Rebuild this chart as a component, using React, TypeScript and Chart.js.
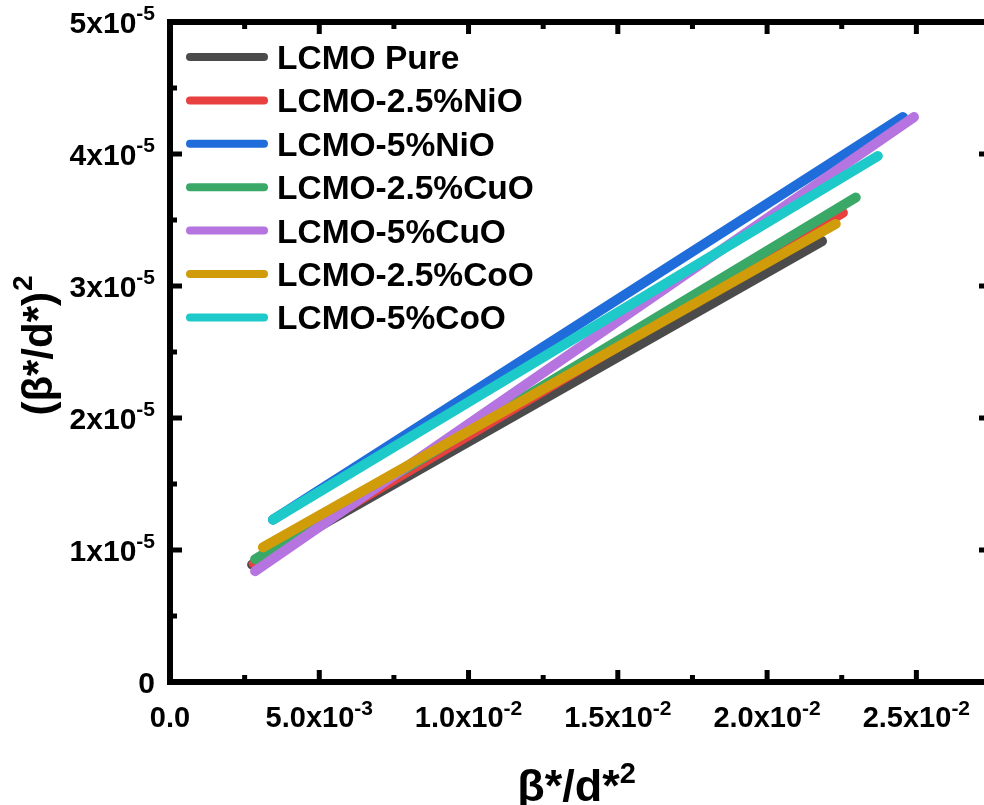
import { useEffect, useRef } from "react";
import { Chart, registerables } from "chart.js";

Chart.register(...registerables);

// Williamson–Hall style fit lines: (β*/d*)² against β*/d*², one straight fit per sample
const seriesNames = [
  "LCMO Pure",
  "LCMO-2.5%NiO",
  "LCMO-5%NiO",
  "LCMO-2.5%CuO",
  "LCMO-5%CuO",
  "LCMO-2.5%CoO",
  "LCMO-5%CoO",
];
const seriesColors = [
  "#4b4b4b",
  "#e8403f",
  "#1f6ddb",
  "#3aa867",
  "#b574e0",
  "#d19c0a",
  "#1ec9c9",
];

// fit end points (x = β*/d*², y = (β*/d*)²)
const pureX = [0.00275, 0.02184];
const pureY = [0.89e-5, 3.34e-5];
const nio25X = [0.0028, 0.02254];
const nio25Y = [0.9e-5, 3.555e-5];
const nio5X = [0.00345, 0.02455];
const nio5Y = [1.23e-5, 4.28e-5];
const cuo25X = [0.00285, 0.02297];
const cuo25Y = [0.93e-5, 3.67e-5];
const cuo5X = [0.00285, 0.02492];
const cuo5Y = [0.84e-5, 4.28e-5];
const coo25X = [0.00311, 0.0223];
const coo25Y = [1.02e-5, 3.47e-5];
const coo5X = [0.00345, 0.02371];
const coo5Y = [1.23e-5, 3.985e-5];

const seriesX = [pureX, nio25X, nio5X, cuo25X, cuo5X, coo25X, coo5X];
const seriesY = [pureY, nio25Y, nio5Y, cuo25Y, cuo5Y, coo25Y, coo5Y];

const xMin = 0;
const xMax = 0.0275;
const xStep = 0.0025;
const xMajor = 0.005;
const yMin = 0;
const yMax = 5e-5;
const yStep = 0.5e-5;
const yMajor = 1e-5;

const FONT = "'Liberation Sans', Arial, sans-serif";

const isMultiple = (v: number, m: number) =>
  Math.abs(v / m - Math.round(v / m)) < 1e-6;

// mantissa / exponent split for "Nx10^e" labels
const sciParts = (v: number, digits: number) => {
  const e = Math.floor(Math.log10(v) + 1e-9);
  const m = v / Math.pow(10, e);
  return { base: `${m.toFixed(digits)}x10`, exp: `${e}` };
};

const drawSci = (
  ctx: CanvasRenderingContext2D,
  base: string,
  exp: string,
  x: number,
  y: number,
  align: "right" | "center",
  size: number,
  supSize: number
) => {
  ctx.font = `bold ${size}px ${FONT}`;
  const wb = ctx.measureText(base).width;
  ctx.font = `bold ${supSize}px ${FONT}`;
  const we = exp ? ctx.measureText(exp).width : 0;
  const total = wb + we;
  const start = align === "right" ? x - total : x - total / 2;
  ctx.textAlign = "left";
  ctx.textBaseline = "alphabetic";
  ctx.font = `bold ${size}px ${FONT}`;
  ctx.fillText(base, start, y);
  if (exp) {
    ctx.font = `bold ${supSize}px ${FONT}`;
    ctx.fillText(exp, start + wb, y - size * 0.42);
  }
};

const framePlugin = {
  id: "frameAndLabels",
  afterDraw(chart: any) {
    const { ctx, chartArea: a, scales } = chart;
    const xs = scales.x;
    const ys = scales.y;
    ctx.save();
    ctx.strokeStyle = "#000";
    ctx.fillStyle = "#000";

    // tick marks on all four sides, pointing inward
    ctx.lineWidth = 5;
    ctx.lineCap = "butt";
    ctx.beginPath();
    for (const t of xs.ticks) {
      const px = xs.getPixelForValue(t.value);
      const len = isMultiple(t.value, xMajor) ? 12 : 7;
      ctx.moveTo(px, a.bottom);
      ctx.lineTo(px, a.bottom - len);
      ctx.moveTo(px, a.top);
      ctx.lineTo(px, a.top + len);
    }
    for (const t of ys.ticks) {
      const py = ys.getPixelForValue(t.value);
      const len = isMultiple(t.value, yMajor) ? 12 : 7;
      ctx.moveTo(a.left, py);
      ctx.lineTo(a.left + len, py);
      ctx.moveTo(a.right, py);
      ctx.lineTo(a.right - len, py);
    }
    ctx.stroke();

    // frame
    ctx.lineWidth = 6;
    ctx.strokeRect(a.left, a.top, a.right - a.left, a.bottom - a.top);

    // y tick labels
    for (const t of ys.ticks) {
      if (!isMultiple(t.value, yMajor)) continue;
      const py = ys.getPixelForValue(t.value);
      if (Math.abs(t.value) < 1e-12) {
        drawSci(ctx, "0", "", 155, py + 11, "right", 30, 21);
      } else {
        const p = sciParts(t.value, 0);
        drawSci(ctx, p.base, p.exp, 155, py + 11, "right", 30, 21);
      }
    }

    // x tick labels
    for (const t of xs.ticks) {
      if (!isMultiple(t.value, xMajor)) continue;
      const px = xs.getPixelForValue(t.value);
      if (Math.abs(t.value) < 1e-12) {
        drawSci(ctx, "0.0", "", px, a.bottom + 45, "center", 29, 21);
      } else {
        const p = sciParts(t.value, 1);
        drawSci(ctx, p.base, p.exp, px, a.bottom + 45, "center", 29, 21);
      }
    }

    // x title: β*/d*²
    {
      const cx = (a.left + a.right) / 2 - 4;
      ctx.font = `bold 45px ${FONT}`;
      const main = "β*/d*";
      const wm = ctx.measureText(main).width;
      ctx.font = `bold 29px ${FONT}`;
      const ws = ctx.measureText("2").width;
      const start = cx - (wm + ws) / 2;
      ctx.textAlign = "left";
      ctx.textBaseline = "alphabetic";
      ctx.font = `bold 45px ${FONT}`;
      ctx.fillText(main, start, 801);
      ctx.font = `bold 29px ${FONT}`;
      ctx.fillText("2", start + wm, 783);
    }

    // y title: (β*/d*)²
    {
      ctx.save();
      ctx.translate(52, 346);
      ctx.rotate(-Math.PI / 2);
      ctx.font = `bold 42px ${FONT}`;
      const main = "(β*/d*)";
      const wm = ctx.measureText(main).width;
      ctx.font = `bold 28px ${FONT}`;
      const ws = ctx.measureText("2").width;
      const start = -(wm + ws) / 2;
      ctx.textAlign = "left";
      ctx.textBaseline = "alphabetic";
      ctx.font = `bold 42px ${FONT}`;
      ctx.fillText(main, start, 0);
      ctx.font = `bold 28px ${FONT}`;
      ctx.fillText("2", start + wm + 1, -20);
      ctx.restore();
    }

    // legend
    const rowTop = 57;
    const rowStep = 43.4;
    chart.data.datasets.forEach((ds: any, i: number) => {
      const y = rowTop + i * rowStep;
      ctx.strokeStyle = ds.borderColor;
      ctx.lineWidth = 8;
      ctx.lineCap = "round";
      ctx.beginPath();
      ctx.moveTo(190, y);
      ctx.lineTo(264, y);
      ctx.stroke();
      ctx.fillStyle = "#000";
      ctx.font = `bold 33.5px ${FONT}`;
      ctx.textAlign = "left";
      ctx.textBaseline = "alphabetic";
      ctx.fillText(ds.label, 277, y + 12);
    });

    ctx.restore();
  },
};

export default function App() {
  const canvasRef = useRef<HTMLCanvasElement | null>(null);

  useEffect(() => {
    if (!canvasRef.current) return;
    const datasets = seriesNames.map((name, i) => ({
      label: name,
      data: seriesX[i].map((x, j) => ({ x, y: seriesY[i][j] })),
      borderColor: seriesColors[i],
      backgroundColor: seriesColors[i],
      borderWidth: 10,
      borderCapStyle: "round" as const,
      pointRadius: 0,
      pointHoverRadius: 0,
      showLine: true,
      fill: false,
      tension: 0,
      order: -i,
    }));

    const chart = new Chart(canvasRef.current, {
      type: "line",
      data: { datasets },
      options: {
        animation: false,
        responsive: false,
        maintainAspectRatio: false,
        devicePixelRatio: 1,
        layout: { padding: { left: 170, right: 9, top: 22, bottom: 123 } },
        plugins: {
          legend: { display: false },
          tooltip: { enabled: false },
        },
        scales: {
          x: {
            type: "linear",
            min: xMin,
            max: xMax,
            ticks: { display: false, stepSize: xStep },
            grid: { display: false, drawTicks: false },
            border: { display: false },
          },
          y: {
            type: "linear",
            min: yMin,
            max: yMax,
            ticks: { display: false, stepSize: yStep },
            grid: { display: false, drawTicks: false },
            border: { display: false },
          },
        },
      },
      plugins: [framePlugin],
    });
    return () => chart.destroy();
  }, []);

  return (
    <div
      style={{
        position: "fixed",
        left: 0,
        top: 0,
        width: 984,
        height: 805,
        overflow: "hidden",
        background: "#fff",
      }}
    >
      <canvas
        ref={canvasRef}
        width={1000}
        height={805}
        style={{ width: 1000, height: 805, display: "block" }}
      />
    </div>
  );
}
